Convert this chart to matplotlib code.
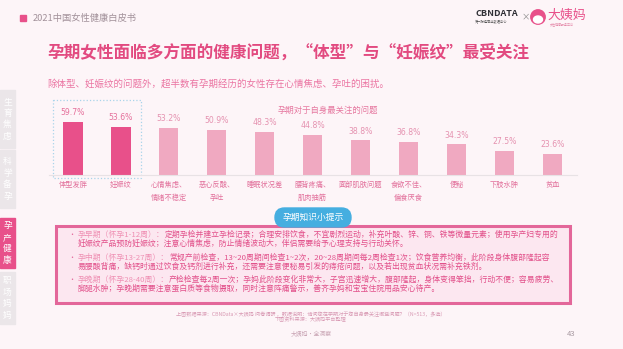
import matplotlib.pyplot as plt
from matplotlib.patches import Rectangle, FancyBboxPatch, Circle, Ellipse

plt.rcParams["font.family"] = ["Noto Sans CJK SC", "DejaVu Sans"]

# data
categories = ["体型发胖", "妊娠纹", "心情焦虑、\n情绪不稳定", "恶心反酸、\n孕吐", "睡眠状况差",
              "腰背疼痛、\n肌肉抽筋", "面部肌肤问题", "食欲不佳、\n偏食厌食", "便秘", "下肢水肿", "贫血"]
values = [59.7, 53.6, 53.2, 50.9, 48.3, 44.8, 38.8, 36.8, 34.3, 27.5, 23.6]
n_highlight = 2

sidebar_tabs = ["生育焦虑", "科学备孕", "孕产健康", "职场妈妈"]
active_tab = 2

title = "孕期女性面临多方面的健康问题，“体型”与“妊娠纹”最受关注"
subtitle = "除体型、妊娠纹的问题外，超半数有孕期经历的女性存在心情焦虑、孕吐的困扰。"
chart_title = "孕期对于自身最关注的问题"

tips = [
    ("孕早期（怀孕1-12周）：",
     "定期孕检并建立孕检记录；合理安排饮食，不宜剧烈运动，补充叶酸、锌、铜、铁等微量元素；使用孕产妇专用的",
     "妊娠纹产品预防妊娠纹；注意心情焦虑，防止情绪波动大，伴侣需要给予心理支持与行动关怀。"),
    ("孕中期（怀孕13-27周）：",
     "常规产前检查，13~20周期间检查1~2次，20~28周期间每2周检查1次；饮食营养均衡，此阶段身体腹部隆起容",
     "易腰酸背痛，缺钙时通过饮食及钙剂进行补充，还需要注意便秘易引发的痔疮问题，以及若出现贫血状况需补充铁剂。"),
    ("孕晚期（怀孕28-40周）：",
     "产检检查每2周一次；孕妈此阶段变化非常大，子宫迅速增大，腹部隆起，身体变得笨拙，行动不便；容易疲劳、",
     "脚腿水肿；孕晚期需要注意蛋白质等食物摄取，同时注意阵痛警示，善齐孕妈和宝宝住院用品安心待产。"),
]

W, H = 623, 349
BG = "#fdf5f8"
PINK = "#e8508a"
LIGHT = "#f0a9c1"

fig = plt.figure(figsize=(W / 100, H / 100), dpi=100, facecolor=BG)

# overlay in pixel coords
ov = fig.add_axes([0, 0, 1, 1], zorder=0)
ov.set_xlim(0, W)
ov.set_ylim(H, 0)
ov.axis("off")

# header
ov.add_patch(Rectangle((20, 15), 6, 6, color=PINK))
ov.text(33, 18.5, "2021中国女性健康白皮书", fontsize=6.7, color="#a2919a", va="center")

# logo
ov.text(475, 14, "CBNDATA", fontsize=6.5, fontweight="bold", color="#2f2f35", va="center")
ov.text(475, 22.5, "第一财经商业数据中心", fontsize=2.3, color="#555", va="center")
ov.text(526, 17, "×", fontsize=6, color="#888", va="center", ha="center")
ov.add_patch(Circle((538, 17), 7.2, color=PINK))
ov.add_patch(Ellipse((538, 19.5), 9, 7, color="white"))
ov.text(547, 15, "大姨妈", fontsize=9.3, color=PINK, va="center")
ov.text(550, 24.5, "女性健康服务平台", fontsize=2.2, color="#e58aaa", va="center")

# titles
ov.text(47, 53, title, fontsize=12, fontweight="bold", color="#e24a80", va="center")
ov.text(47, 84, subtitle, fontsize=6.8, color="#eb74a2", va="center")
ov.text(328, 110, chart_title, fontsize=6, color="#e6779f", va="center", ha="center")

# sidebar
tab_spans = [(90, 148), (150, 208), (218, 268), (272, 324)]
for i, (label, (y0, y1)) in enumerate(zip(sidebar_tabs, tab_spans)):
    ov.add_patch(Rectangle((0, y0), 15, y1 - y0, color=PINK if i == active_tab else "#ebe6e9"))
    mid = (y0 + y1) / 2
    for k, ch in enumerate(label):
        ov.text(7.5, mid + (k - 1.5) * 11.5, ch, fontsize=6.3, color="white", ha="center", va="center")

# highlight box around first two bars
ov.add_patch(Rectangle((53, 100), 88, 78, fill=False, edgecolor="#a9d4ea", linestyle=":", lw=0.9))

# tip box
ov.add_patch(Rectangle((56, 226), 514, 77, facecolor="#fce7f0", edgecolor="#e3679a", lw=2.2))
ov.add_patch(FancyBboxPatch((275, 208), 76, 19, boxstyle="round,pad=0,rounding_size=9.5",
                            color="#45aee0", zorder=3))
ov.text(313, 217.5, "孕期知识小提示", fontsize=6.3, color="white", ha="center", va="center", zorder=4)

line_y = [(235, 244), (258, 267), (280, 289)]
for (head, l1, l2), (ya, yb) in zip(tips, line_y):
    ov.text(68, ya, "•", fontsize=5, color="#e3679a", va="center")
    t = ov.text(78, ya, head, fontsize=5.65, color="#ef8fb3", va="center")
    ov.annotate(l1, xycoords=t, xy=(1, 0.5), va="center", fontsize=5.65, color="#e2508a")
    ov.text(78, yb, l2, fontsize=5.65, color="#e2508a", va="center")

# footer
ov.text(311, 314, "上图数据来源：CBNData×大姨妈 问卷调研 ，数据说明：请问您在孕期对于您自身最关注哪些问题？（N=513，多选）",
        fontsize=3.7, color="#d99ab4", ha="center", va="center")
ov.text(311, 320, "下图资料来源：大姨妈平台整理", fontsize=3.7, color="#d99ab4", ha="center", va="center")
ov.text(311, 334, "大姨妈·全洞察", fontsize=4.2, color="#c9a4b4", ha="center", va="center")
ov.text(571, 334, "43", fontsize=5.5, color="#a89aa2", ha="center", va="center")

# bar chart
x = list(range(len(values)))
ax = fig.add_axes([49 / W, 1 - 175 / H, 527.5 / W, 89 / H], zorder=1)
ax.patch.set_alpha(0)
colors = [PINK if i < n_highlight else LIGHT for i in x]
bars = ax.bar(x, values, width=0.4, color=colors)
for i, (b, v) in enumerate(zip(bars, values)):
    ax.annotate(f"{v}%", (b.get_x() + b.get_width() / 2, v), xytext=(0, 3.5),
                textcoords="offset points", ha="center", va="bottom", fontsize=5.6,
                family="DejaVu Sans", color="#e5709b" if i < n_highlight else "#e592b0")
ax.set_xlim(-0.5, len(values) - 0.5)
ax.set_ylim(0, 100)
ax.set_xticks(x)
ax.set_xticklabels(categories, fontsize=5.2, color="#e2709b", linespacing=1.9)
ax.tick_params(axis="x", length=0, pad=4)
ax.set_yticks([])
for s in ["top", "left", "right"]:
    ax.spines[s].set_visible(False)
ax.spines["bottom"].set_color("#e8e2e5")
ax.spines["bottom"].set_linewidth(0.8)

fig.savefig("out.png", dpi=100, facecolor=BG)
